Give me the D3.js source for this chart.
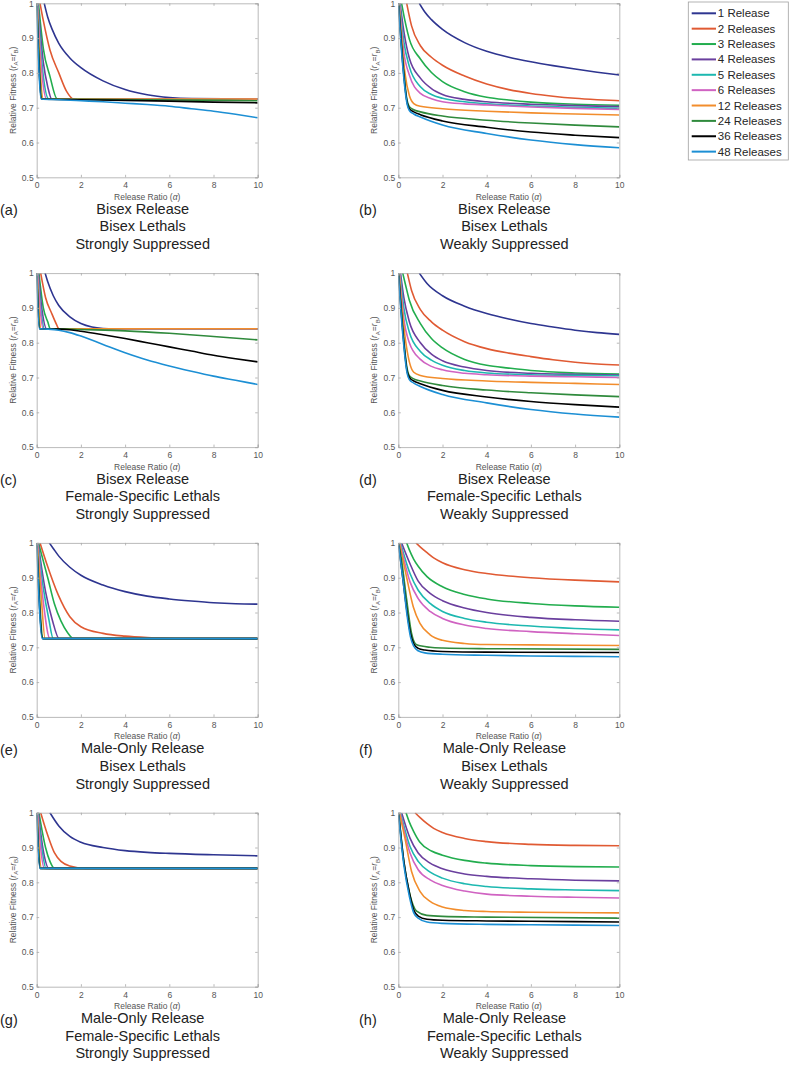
<!DOCTYPE html>
<html><head><meta charset="utf-8">
<script src="https://cdn.jsdelivr.net/npm/d3@7"></script>
<style>body{margin:0;background:#fff} svg{display:block}</style>
</head><body>
<svg id="chart" width="792" height="1066"></svg>
<script>
// ---------- data ----------
const releaseCounts = [1, 2, 3, 4, 5, 6, 12, 24, 36, 48];
const seriesLabels = releaseCounts.map(n => n === 1 ? "1 Release" : n + " Releases");
const xTicks = [0, 2, 4, 6, 8, 10];
const yTicks = [0.5, 0.6, 0.7, 0.8, 0.9, 1];
const panelLetters = ["(a)", "(b)", "(c)", "(d)", "(e)", "(f)", "(g)", "(h)"];
const releaseTypes = ["Bisex Release", "Bisex Release", "Bisex Release", "Bisex Release",
  "Male-Only Release", "Male-Only Release", "Male-Only Release", "Male-Only Release"];
const lethalTypes = ["Bisex Lethals", "Bisex Lethals", "Female-Specific Lethals", "Female-Specific Lethals",
  "Bisex Lethals", "Bisex Lethals", "Female-Specific Lethals", "Female-Specific Lethals"];
const suppressionTypes = ["Strongly Suppressed", "Weakly Suppressed", "Strongly Suppressed", "Weakly Suppressed",
  "Strongly Suppressed", "Weakly Suppressed", "Strongly Suppressed", "Weakly Suppressed"];

// each panel: 10 series (1,2,3,4,5,6,12,24,36,48 releases), each a list of [release ratio, relative fitness]
const fitnessA = [
  [[0.34,1],[0.5,0.96],[0.7,0.925],[1,0.885],[1.5,0.843],[2,0.815],[3,0.777],[4,0.752],[5,0.737],[6,0.729],[7,0.726],[10,0.725]],
  [[0.15,1],[0.3,0.95],[0.6,0.866],[1,0.8],[1.36,0.746],[1.66,0.725],[10,0.725]],
  [[0.08,1],[0.3,0.87],[0.6,0.79],[0.93,0.725],[10,0.725]],
  [[0.05,1],[0.3,0.83],[0.5,0.76],[0.68,0.725],[10,0.725]],
  [[0.04,1],[0.3,0.79],[0.55,0.725],[10,0.725]],
  [[0.03,1],[0.25,0.79],[0.45,0.725],[10,0.725]],
  [[0.02,1],[0.3,0.725],[10,0.725]],
  [[0.01,1],[0.25,0.725],[2,0.724],[5,0.723],[10,0.72]],
  [[0,1],[0.22,0.725],[2,0.723],[4,0.721],[6,0.719],[8,0.716],[10,0.714]],
  [[0,1],[0.2,0.725],[1,0.723],[2,0.72],[3,0.717],[4,0.713],[5,0.709],[6,0.704],[7,0.697],[8,0.69],[9,0.681],[10,0.671]]
];
const fitnessB = [
  [[0.95,1],[1.2,0.975],[1.5,0.953],[2,0.925],[3,0.887],[4,0.862],[5,0.845],[6,0.832],[7,0.821],[8,0.811],[9,0.802],[10,0.794]],
  [[0.38,1],[0.6,0.935],[1,0.878],[1.5,0.845],[2,0.822],[3,0.791],[4,0.768],[5,0.752],[6,0.741],[7,0.733],[8,0.727],[9,0.723],[10,0.72]],
  [[0.15,1],[0.3,0.95],[0.5,0.897],[1,0.84],[1.5,0.801],[2,0.775],[3,0.746],[4,0.73],[5,0.722],[6,0.716],[8,0.71],[10,0.707]],
  [[0.08,1],[0.25,0.92],[0.5,0.842],[1,0.785],[1.5,0.755],[2,0.738],[3,0.724],[4,0.717],[6,0.71],[8,0.706],[10,0.703]],
  [[0.06,1],[0.25,0.89],[0.5,0.818],[1,0.76],[1.5,0.738],[2,0.727],[3,0.717],[4,0.711],[6,0.705],[8,0.701],[10,0.698]],
  [[0.05,1],[0.25,0.86],[0.5,0.794],[1,0.741],[1.5,0.726],[2,0.717],[3,0.711],[4,0.708],[6,0.702],[8,0.698],[10,0.695]],
  [[0.03,1],[0.15,0.9],[0.3,0.8],[0.5,0.735],[0.7,0.712],[1,0.704],[2,0.697],[4,0.69],[6,0.685],[8,0.682],[10,0.679]],
  [[0.02,1],[0.2,0.84],[0.4,0.72],[0.5,0.703],[0.7,0.694],[1,0.688],[2,0.676],[4,0.664],[6,0.656],[8,0.65],[10,0.645]],
  [[0.01,1],[0.2,0.83],[0.4,0.715],[0.5,0.697],[0.7,0.688],[1,0.68],[2,0.662],[4,0.644],[6,0.63],[8,0.621],[10,0.614]],
  [[0,1],[0.2,0.82],[0.4,0.71],[0.5,0.692],[0.7,0.682],[1,0.673],[2,0.65],[4,0.626],[6,0.607],[8,0.594],[10,0.585]]
];
const fitnessC = [
  [[0.38,1],[0.5,0.975],[0.75,0.935],[1,0.907],[1.5,0.874],[2,0.855],[2.5,0.845],[3,0.841],[3.5,0.84],[10,0.84]],
  [[0.18,1],[0.4,0.93],[0.68,0.884],[0.9,0.852],[1,0.84],[10,0.84]],
  [[0.1,1],[0.3,0.9],[0.5,0.86],[0.62,0.84],[10,0.84]],
  [[0.07,1],[0.25,0.89],[0.45,0.84],[10,0.84]],
  [[0.05,1],[0.2,0.89],[0.35,0.84],[10,0.84]],
  [[0.04,1],[0.3,0.84],[10,0.84]],
  [[0.02,1],[0.2,0.84],[10,0.84]],
  [[0.01,1],[0.15,0.84],[1,0.84],[2,0.838],[4,0.834],[6,0.827],[8,0.818],[10,0.808]],
  [[0,1],[0.13,0.84],[1,0.839],[1.5,0.837],[2,0.833],[3,0.823],[4,0.812],[5,0.8],[6,0.788],[7,0.776],[8,0.764],[9,0.754],[10,0.745]],
  [[0,1],[0.12,0.84],[0.5,0.839],[1,0.836],[1.5,0.829],[2,0.819],[3,0.795],[4,0.771],[5,0.75],[6,0.733],[7,0.718],[8,0.704],[9,0.692],[10,0.68]]
];
const fitnessD = [
  [[0.95,1],[1.3,0.97],[2,0.935],[3,0.905],[4,0.884],[5,0.868],[6,0.855],[7,0.845],[8,0.836],[9,0.829],[10,0.824]],
  [[0.41,1],[0.6,0.95],[1,0.895],[1.5,0.86],[2,0.836],[3,0.803],[4,0.783],[5,0.77],[6,0.76],[7,0.751],[8,0.744],[9,0.739],[10,0.736]],
  [[0.2,1],[0.35,0.96],[0.5,0.922],[1,0.855],[1.5,0.812],[2,0.785],[3,0.752],[4,0.735],[5,0.727],[6,0.72],[8,0.713],[10,0.71]],
  [[0.1,1],[0.25,0.93],[0.5,0.86],[1,0.8],[1.5,0.767],[2,0.748],[3,0.73],[4,0.72],[6,0.712],[8,0.709],[10,0.707]],
  [[0.08,1],[0.25,0.9],[0.5,0.83],[1,0.775],[1.5,0.75],[2,0.735],[3,0.72],[4,0.713],[6,0.708],[8,0.706],[10,0.705]],
  [[0.06,1],[0.25,0.87],[0.5,0.8],[1,0.752],[1.5,0.732],[2,0.722],[3,0.712],[4,0.708],[6,0.704],[8,0.702],[10,0.7]],
  [[0.04,1],[0.15,0.91],[0.3,0.82],[0.5,0.745],[0.7,0.715],[1,0.706],[2,0.697],[4,0.69],[6,0.686],[8,0.683],[10,0.68]],
  [[0.02,1],[0.2,0.845],[0.4,0.725],[0.5,0.705],[0.7,0.696],[1,0.69],[2,0.677],[4,0.664],[6,0.656],[8,0.65],[10,0.645]],
  [[0.01,1],[0.2,0.835],[0.4,0.718],[0.5,0.7],[0.7,0.69],[1,0.682],[2,0.663],[4,0.644],[6,0.631],[8,0.622],[10,0.615]],
  [[0,1],[0.2,0.825],[0.4,0.712],[0.5,0.694],[0.7,0.684],[1,0.674],[2,0.651],[4,0.627],[6,0.608],[8,0.595],[10,0.586]]
];
const fitnessE = [
  [[0.57,1],[0.75,0.984],[1,0.962],[1.5,0.93],[2,0.907],[3,0.879],[4,0.86],[5,0.847],[6,0.839],[7,0.833],[8,0.828],[9,0.825],[10,0.824]],
  [[0.15,1],[0.45,0.941],[0.98,0.85],[1.5,0.788],[2,0.759],[3,0.74],[4,0.732],[5,0.728],[6,0.726],[7,0.725],[10,0.725]],
  [[0.08,1],[0.5,0.9],[0.8,0.825],[1.1,0.775],[1.4,0.742],[1.65,0.726],[10,0.725]],
  [[0.06,1],[0.4,0.86],[0.7,0.78],[1.02,0.725],[10,0.725]],
  [[0.05,1],[0.3,0.87],[0.55,0.78],[0.75,0.725],[10,0.725]],
  [[0.04,1],[0.3,0.83],[0.6,0.725],[10,0.725]],
  [[0.02,1],[0.2,0.85],[0.38,0.725],[10,0.725]],
  [[0.01,1],[0.3,0.725],[10,0.725]],
  [[0,1],[0.27,0.725],[10,0.725]],
  [[0,1],[0.25,0.725],[10,0.725]]
];
const fitnessF = [
  [[0,1.5],[2,1.15],[5,1.06],[10,1.03]],
  [[0.8,1],[1,0.988],[1.3,0.972],[1.6,0.957],[2,0.943],[3,0.923],[4,0.912],[5,0.905],[6,0.9],[8,0.893],[10,0.888]],
  [[0.38,1],[0.5,0.98],[0.7,0.953],[0.9,0.933],[1.3,0.903],[2,0.874],[3,0.852],[4,0.839],[6,0.826],[8,0.819],[10,0.815]],
  [[0.15,1],[0.53,0.94],[0.9,0.89],[1.44,0.855],[2,0.834],[3,0.813],[4,0.8],[6,0.786],[8,0.779],[10,0.775]],
  [[0.1,1],[0.53,0.912],[0.9,0.864],[1.44,0.826],[2,0.803],[3,0.783],[4,0.772],[6,0.761],[8,0.754],[10,0.75]],
  [[0.08,1],[0.53,0.888],[0.9,0.84],[1.44,0.803],[2,0.783],[3,0.764],[4,0.754],[6,0.745],[8,0.739],[10,0.734]],
  [[0.05,1],[0.38,0.9],[0.68,0.816],[0.98,0.769],[1.44,0.736],[2,0.72],[3,0.711],[4,0.708],[6,0.707],[10,0.705]],
  [[0.02,1],[0.15,0.95],[0.38,0.836],[0.6,0.74],[0.83,0.707],[1.44,0.7],[2,0.698],[4,0.696],[10,0.694]],
  [[0.01,1],[0.2,0.9],[0.4,0.8],[0.55,0.74],[0.7,0.71],[0.9,0.697],[1.2,0.692],[2,0.688],[4,0.686],[10,0.685]],
  [[0,1],[0.2,0.9],[0.4,0.79],[0.55,0.73],[0.7,0.703],[0.9,0.69],[1.2,0.684],[2,0.68],[4,0.677],[6,0.675],[8,0.674],[10,0.673]]
];
const fitnessG = [
  [[0.6,1],[1,0.962],[1.5,0.932],[2,0.915],[3,0.9],[4,0.891],[5,0.886],[6,0.883],[8,0.879],[10,0.876]],
  [[0.18,1],[0.5,0.935],[0.8,0.885],[1.1,0.86],[1.5,0.847],[2.2,0.84],[10,0.84]],
  [[0.1,1],[0.4,0.9],[0.6,0.86],[0.8,0.84],[10,0.84]],
  [[0.07,1],[0.3,0.89],[0.55,0.84],[10,0.84]],
  [[0.05,1],[0.25,0.89],[0.42,0.84],[10,0.84]],
  [[0.04,1],[0.35,0.84],[10,0.84]],
  [[0.02,1],[0.22,0.84],[10,0.84]],
  [[0.01,1],[0.17,0.84],[10,0.84]],
  [[0,1],[0.15,0.84],[10,0.84]],
  [[0,1],[0.14,0.84],[10,0.84]]
];
const fitnessH = [
  [[0,1.5],[2,1.12],[5,1.05],[10,1.02]],
  [[0.76,1],[1,0.985],[1.29,0.969],[1.6,0.955],[2,0.943],[3,0.926],[4,0.917],[6,0.909],[8,0.906],[10,0.905]],
  [[0.35,1],[0.5,0.973],[0.68,0.948],[0.98,0.915],[1.5,0.89],[2,0.878],[3,0.863],[4,0.855],[6,0.848],[8,0.845],[10,0.844]],
  [[0.15,1],[0.53,0.927],[0.9,0.884],[1.44,0.855],[2,0.839],[3,0.824],[4,0.817],[6,0.81],[8,0.806],[10,0.804]],
  [[0.1,1],[0.53,0.903],[0.9,0.86],[1.44,0.829],[2,0.812],[3,0.796],[4,0.788],[6,0.781],[8,0.778],[10,0.776]],
  [[0.08,1],[0.53,0.884],[0.9,0.836],[1.44,0.807],[2,0.791],[3,0.775],[4,0.766],[6,0.76],[8,0.757],[10,0.755]],
  [[0.05,1],[0.3,0.927],[0.6,0.831],[0.98,0.774],[1.44,0.745],[2,0.729],[3,0.719],[4,0.716],[6,0.714],[10,0.712]],
  [[0.02,1],[0.23,0.87],[0.53,0.764],[0.83,0.717],[1.29,0.705],[2,0.702],[4,0.7],[10,0.697]],
  [[0.01,1],[0.25,0.86],[0.5,0.77],[0.7,0.72],[0.9,0.703],[1.3,0.694],[2,0.691],[4,0.689],[6,0.688],[10,0.686]],
  [[0,1],[0.25,0.85],[0.5,0.76],[0.7,0.712],[0.9,0.697],[1.3,0.686],[2,0.682],[4,0.679],[6,0.678],[10,0.676]]
];
const panelData = [fitnessA, fitnessB, fitnessC, fitnessD, fitnessE, fitnessF, fitnessG, fitnessH];

// ---------- style ----------
const colors = ["#2e3590", "#e05a33", "#22ad4e", "#6a3f9e", "#1db8b0", "#d063c2", "#f28d2c", "#2f8a3c", "#000000", "#1c8fd4"];
const FONT = "'Liberation Sans', Arial, Helvetica, sans-serif";
const colLeft = [36.7, 398.3];
const rowTop0 = 3.3, rowStep = 269.8;
const PW = 221, PH = 174;
const axisGray = "#a8a8a8", labelGray = "#555";

const svg = d3.select("#chart").style("font-family", FONT);
const defs = svg.append("defs");

panelData.forEach((series, i) => {
  const col = i % 2, row = Math.floor(i / 2);
  const left = colLeft[col], top = rowTop0 + row * rowStep;
  const x = d3.scaleLinear().domain([0, 10]).range([0, PW]);
  const y = d3.scaleLinear().domain([0.5, 1]).range([PH, 0]);
  const g = svg.append("g").attr("transform", `translate(${left},${top})`);

  defs.append("clipPath").attr("id", "clip" + i)
    .append("rect").attr("x", 0).attr("y", 0).attr("width", PW).attr("height", PH);

  g.append("rect").attr("width", PW).attr("height", PH).attr("fill", "#fff");

  const line = d3.line().x(d => x(d[0])).y(d => y(d[1])).curve(d3.curveMonotoneX);
  const lg = g.append("g").attr("clip-path", `url(#clip${i})`);
  series.forEach((pts, k) => {
    lg.append("path").attr("d", line(pts)).attr("fill", "none")
      .attr("stroke", colors[k]).attr("stroke-width", 1.6).attr("stroke-linejoin", "round");
  });

  const styleAxis = sel => {
    sel.select(".domain").attr("stroke", axisGray).attr("stroke-width", 0.8);
    sel.selectAll(".tick line").attr("stroke", axisGray).attr("stroke-width", 0.8);
    sel.selectAll(".tick text").attr("fill", labelGray).style("font-size", "8.5px").style("font-family", FONT);
  };
  const fmtY = d => d === 1 ? "1" : d3.format(".1f")(d);

  g.append("g").attr("transform", `translate(0,${PH})`)
    .call(d3.axisBottom(x).tickValues(xTicks).tickSize(-2.5).tickPadding(5).tickFormat(d3.format("d")))
    .call(styleAxis);
  g.append("g")
    .call(d3.axisTop(x).tickValues(xTicks).tickSize(-2.5).tickFormat(""))
    .call(styleAxis);
  g.append("g")
    .call(d3.axisLeft(y).tickValues(yTicks).tickSize(-2.5).tickPadding(3).tickFormat(fmtY))
    .call(styleAxis);
  g.append("g").attr("transform", `translate(${PW},0)`)
    .call(d3.axisRight(y).tickValues(yTicks).tickSize(-2.5).tickFormat(""))
    .call(styleAxis);

  // x label
  const xl = g.append("text").attr("x", PW / 2).attr("y", PH + 22.5).attr("text-anchor", "middle")
    .attr("fill", labelGray).style("font-size", "8.5px");
  xl.append("tspan").text("Release Ratio (");
  xl.append("tspan").attr("font-style", "italic").text("α");
  xl.append("tspan").text(")");

  // y label
  const yl = g.append("text").attr("transform", `translate(-21,${PH / 2}) rotate(-90)`)
    .attr("text-anchor", "middle").attr("fill", labelGray).style("font-size", "8.5px");
  yl.append("tspan").text("Relative Fitness (");
  yl.append("tspan").attr("font-style", "italic").text("r");
  yl.append("tspan").attr("dy", 2.5).style("font-size", "6px").text("A");
  yl.append("tspan").attr("dy", -2.5).text("=");
  yl.append("tspan").attr("font-style", "italic").text("r");
  yl.append("tspan").attr("dy", 2.5).style("font-size", "6px").text("B");
  yl.append("tspan").attr("dy", -2.5).text(")");

  // panel letter and title
  g.append("text").attr("x", (col === 0 ? 0 : 359) - left).attr("y", PH + 38)
    .attr("fill", "#222").style("font-size", "14.5px").text(panelLetters[i]);
  const titleLines = [releaseTypes[i], lethalTypes[i], suppressionTypes[i]];
  titleLines.forEach((t, j) => {
    g.append("text").attr("x", PW / 2 - 4.5).attr("y", PH + 36.6 + j * 17.6)
      .attr("text-anchor", "middle").attr("fill", "#222").style("font-size", "14.5px").text(t);
  });
});

// ---------- legend ----------
const leg = svg.append("g").attr("transform", "translate(688.3,2)");
leg.append("rect").attr("width", 100).attr("height", 158).attr("fill", "#fff")
  .attr("stroke", "#a0a0a0").attr("stroke-width", 0.8);
seriesLabels.forEach((lab, k) => {
  const yy = 11.3 + k * 15.37;
  leg.append("line").attr("x1", 3.4).attr("x2", 27.7).attr("y1", yy).attr("y2", yy)
    .attr("stroke", colors[k]).attr("stroke-width", 2);
  leg.append("text").attr("x", 29.5).attr("y", yy + 4).attr("fill", "#262626")
    .style("font-size", "11.5px").text(lab);
});
</script>
</body></html>
